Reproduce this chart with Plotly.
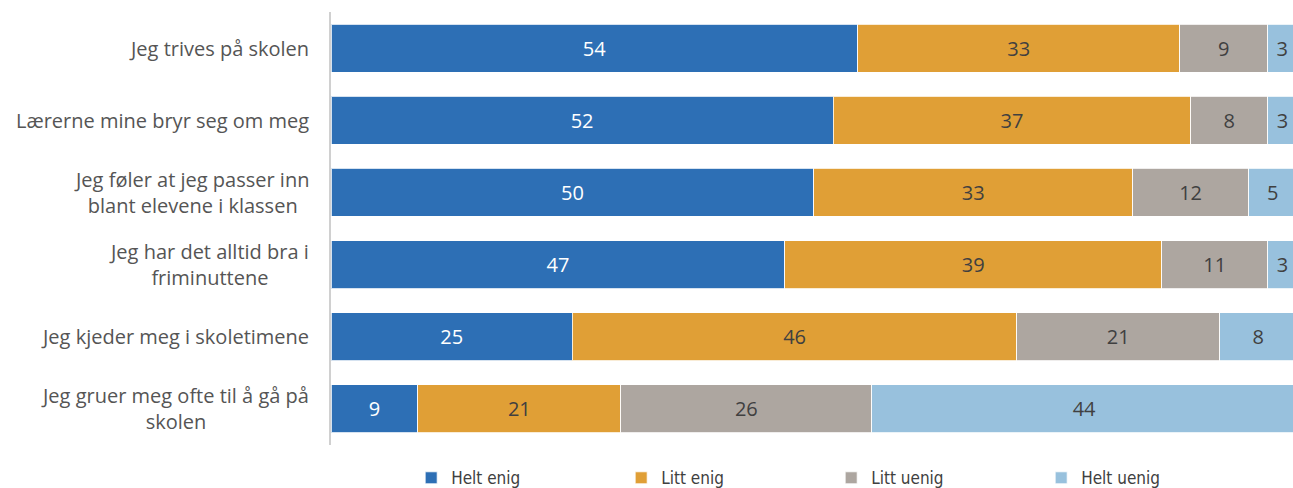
import plotly.graph_objects as go

categories = [
    "Jeg trives på skolen",
    "Lærerne mine bryr seg om meg",
    "Jeg føler at jeg passer inn<br>blant elevene i klassen",
    "Jeg har det alltid bra i<br>friminuttene",
    "Jeg kjeder meg i skoletimene",
    "Jeg gruer meg ofte til å gå på<br>skolen",
]
series_names = ["Helt enig", "Litt enig", "Litt uenig", "Helt uenig"]
helt_enig = [54, 52, 50, 47, 25, 9]
litt_enig = [33, 37, 33, 39, 46, 21]
litt_uenig = [9, 8, 12, 11, 21, 26]
helt_uenig = [3, 3, 5, 3, 8, 44]

series_values = [helt_enig, litt_enig, litt_uenig, helt_uenig]
colors = ["#2D6FB5", "#E09F36", "#ADA6A0", "#98C1DD"]
text_colors = ["#FFFFFF", "#404040", "#404040", "#404040"]

fig = go.Figure()
for name, vals, col, tcol in zip(series_names, series_values, colors, text_colors):
    fig.add_trace(go.Bar(
        y=categories, x=vals, name=name, orientation="h",
        marker=dict(color=col, line=dict(color="rgba(255,255,255,0.8)", width=1)),
        text=[str(v) for v in vals], texttemplate="%{text}",
        textposition="inside", insidetextanchor="middle",
        textfont=dict(family="Open Sans, Roboto, Arial, sans-serif", size=20, color=tcol),
        width=0.665, hoverinfo="skip",
    ))

for cat in categories:
    fig.add_annotation(
        x=0, xref="paper", y=cat, yref="y", text=cat, showarrow=False,
        xanchor="right", align="center", xshift=-20,
        font=dict(family="Open Sans, Roboto, Arial, sans-serif", size=20, color="#555555"),
    )

fig.update_layout(
    width=1293, height=488,
    barmode="stack", barnorm="percent",
    margin=dict(l=331, r=0, t=12, b=43),
    plot_bgcolor="white", paper_bgcolor="white",
    xaxis=dict(range=[0, 99.6], showgrid=False, showticklabels=False, zeroline=False,
               showline=False, fixedrange=True),
    yaxis=dict(categoryorder="array", categoryarray=categories[::-1], showticklabels=False,
               showgrid=False, zeroline=False, showline=True, linecolor="#D0D0D0", linewidth=1.5,
               ticks="", fixedrange=True),
    showlegend=True,
    legend=dict(orientation="h", xref="container", yref="container", x=0.318, y=0.02,
                xanchor="left", yanchor="middle", itemwidth=30, entrywidth=165,
                font=dict(family="Liberation Sans Narrow, DejaVu Sans Condensed, Arial Narrow, sans-serif",
                          size=17, color="#404040"),
                traceorder="normal"),
    bargap=0.335,
)

fig.write_html("out.html", config={"displayModeBar": False},
               post_script="document.body.style.margin='0';document.body.style.overflow='hidden';")
